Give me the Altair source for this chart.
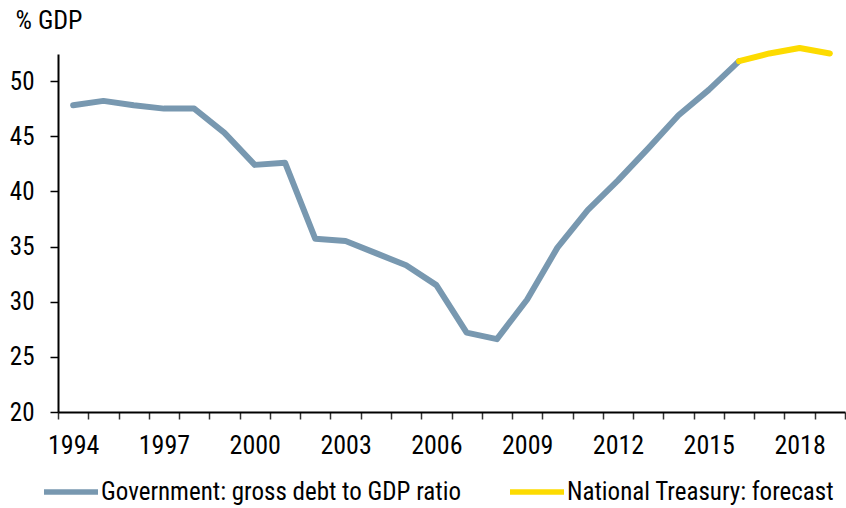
import altair as alt
import pandas as pd

FONT = "'Liberation Sans Narrow', 'Roboto Condensed', 'DejaVu Sans Condensed', 'DejaVu Sans', sans-serif"

all_years = list(range(1994, 2020))
gov_years = list(range(1994, 2017))
gov_debt = [47.8, 48.2, 47.8, 47.5, 47.5, 45.3, 42.4, 42.6, 35.7, 35.5, 34.4,
            33.3, 31.5, 27.2, 26.6, 30.2, 34.9, 38.3, 41.0, 43.9, 46.9, 49.2, 51.8]
fc_years = [2016, 2017, 2018, 2019]
fc_values = [51.8, 52.5, 53.0, 52.5]

s_gov = "Government: gross debt to GDP ratio"
s_fc = "National Treasury: forecast"
series_names = [s_gov, s_fc]
series_colors = ["#7898B0", "#FDDB00"]
y_ticks = [20, 25, 30, 35, 40, 45, 50]

df = pd.concat([
    pd.DataFrame({"year": gov_years, "value": gov_debt, "series": s_gov}),
    pd.DataFrame({"year": fc_years, "value": fc_values, "series": s_fc}),
], ignore_index=True)

chart = alt.Chart(df).mark_line(
    strokeWidth=6, strokeCap="round", strokeJoin="round"
).encode(
    x=alt.X("year:O",
            scale=alt.Scale(type="band", domain=all_years, paddingInner=0, paddingOuter=0),
            axis=alt.Axis(title=None, tickBand="extent", labelAngle=0, labelOverlap=False,
                          labelExpr="(toNumber(datum.value) - 1994) % 3 == 0 ? datum.label : ''",
                          labelFont=FONT, labelFontSize=26, labelColor="#000000",
                          labelPadding=13, tickSize=7, tickColor="#333333", tickWidth=1.5,
                          domainColor="#000000", domainWidth=2, grid=False)),
    y=alt.Y("value:Q",
            scale=alt.Scale(domain=[20, 52.45], nice=False, zero=False),
            axis=alt.Axis(values=y_ticks, title="% GDP", titleAngle=0, titleX=-43, titleY=-26,
                          titleAlign="left", titleBaseline="alphabetic", titleFont=FONT,
                          titleFontSize=26, titleFontWeight="normal", titleColor="#000000",
                          labelFont=FONT, labelFontSize=25, labelColor="#000000",
                          labelPadding=16, tickSize=8, tickColor="#000000", tickWidth=1.5,
                          domainColor="#000000", domainWidth=2, grid=False)),
    color=alt.Color("series:N",
                    scale=alt.Scale(domain=series_names, range=series_colors),
                    legend=alt.Legend(title=None, orient="none", direction="horizontal",
                                      legendX=-17, legendY=408, symbolType="stroke",
                                      symbolSize=2916, symbolStrokeWidth=5.5,
                                      labelFont=FONT, labelFontSize=25, labelColor="#000000",
                                      labelLimit=800, columnPadding=38, labelOffset=0,
                                      padding=0)),
).properties(
    width=787, height=358,
    autosize=alt.AutoSizeParams(type="none"),
    padding={"left": 58, "top": 54, "right": 1, "bottom": 96},
    background="#ffffff",
).configure_view(stroke=None)

chart.save("out.html", embed_options={"renderer": "svg", "actions": False})
